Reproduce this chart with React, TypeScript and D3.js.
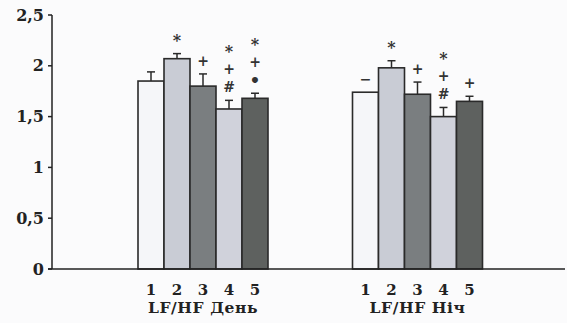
import React from "react";
import * as d3 from "d3";

const groups = ["LF/HF День", "LF/HF Ніч"];
const barLabels = ["1", "2", "3", "4", "5"];
const dayValues = [1.85, 2.07, 1.8, 1.575, 1.68];
const dayErrors = [0.09, 0.05, 0.12, 0.085, 0.05];
const nightValues = [1.74, 1.98, 1.72, 1.5, 1.65];
const nightErrors = [0, 0.07, 0.12, 0.09, 0.05];
const dayMarks = [[], ["*"], ["+"], ["*", "+", "#"], ["*", "+", "•"]];
const nightMarks = [["−"], ["*"], ["+"], ["*", "+", "#"], ["+"]];
const yTicks = [0, 0.5, 1, 1.5, 2, 2.5];
const barColors = ["#f5f6f9", "#c9ccd5", "#7a7e80", "#d0d2db", "#5e615f"];

const W = 567;
const H = 323;

export default function App() {
  const y = d3.scaleLinear().domain([0, 2.5]).range([269, 15]);
  const gx = d3.scalePoint<string>().domain(groups).range([203, 417.5]);
  const inner = d3.scaleBand<string>().domain(barLabels).range([-65, 65]).padding(0);
  const font = "'DejaVu Serif', 'Liberation Serif', serif";
  const data = [
    { g: groups[0], v: dayValues, e: dayErrors, m: dayMarks },
    { g: groups[1], v: nightValues, e: nightErrors, m: nightMarks },
  ];
  return (
    <svg width={W} height={H} style={{ position: "absolute", left: 0, top: 0, background: "#fbfbfc" }}>
      <rect x={0} y={0} width={W} height={H} fill="#fbfbfc" />
      {data.map((d) => {
        const cx = gx(d.g)!;
        return (
          <g key={d.g}>
            {d.v.map((v, i) => {
              const x0 = cx + inner(barLabels[i])!;
              const bw = inner.bandwidth();
              const mid = x0 + bw / 2;
              const top = y(v + d.e[i]);
              return (
                <g key={i}>
                  <rect x={x0} y={y(v)} width={bw} height={y(0) - y(v)} fill={barColors[i]} stroke="#2a2a2a" strokeWidth={1.6} />
                  {d.e[i] > 0 && (
                    <g stroke="#2a2a2a" strokeWidth={1.5}>
                      <line x1={mid} x2={mid} y1={y(v)} y2={top} />
                      <line x1={mid - 4} x2={mid + 4} y1={top} y2={top} />
                    </g>
                  )}
                  {d.m[i].map((s, k) => {
                    const n = d.m[i].length;
                    const yy = top - 13 - (n - 1 - k) * 18;
                    return (
                      <text key={k} x={mid} y={yy} textAnchor="middle" dominantBaseline="central"
                        fontFamily={font} fontWeight="bold" fontSize={s === "•" ? 17 : s === "*" ? 16 : 14} fill="#333">
                        {s}
                      </text>
                    );
                  })}
                  <text x={mid} y={295} textAnchor="middle" fontFamily={font} fontWeight="bold" fontSize={15} fill="#222">
                    {barLabels[i]}
                  </text>
                </g>
              );
            })}
            <text x={cx} y={313} textAnchor="middle" fontFamily={font} fontWeight="bold" fontSize={15.5} letterSpacing={0.6} fill="#222">
              {d.g}
            </text>
          </g>
        );
      })}
      <g stroke="#222" strokeWidth={1.5}>
        <line x1={52} x2={52} y1={y(2.5)} y2={y(0)} />
        <line x1={48} x2={565} y1={y(0)} y2={y(0)} />
        {yTicks.map((t) => (
          <line key={t} x1={48} x2={52} y1={y(t)} y2={y(t)} />
        ))}
      </g>
      {yTicks.map((t) => (
        <text key={t} x={44} y={y(t)} textAnchor="end" dominantBaseline="central" fontFamily={font} fontWeight="bold" fontSize={16} fill="#222">
          {String(t).replace(".", ",")}
        </text>
      ))}
    </svg>
  );
}
